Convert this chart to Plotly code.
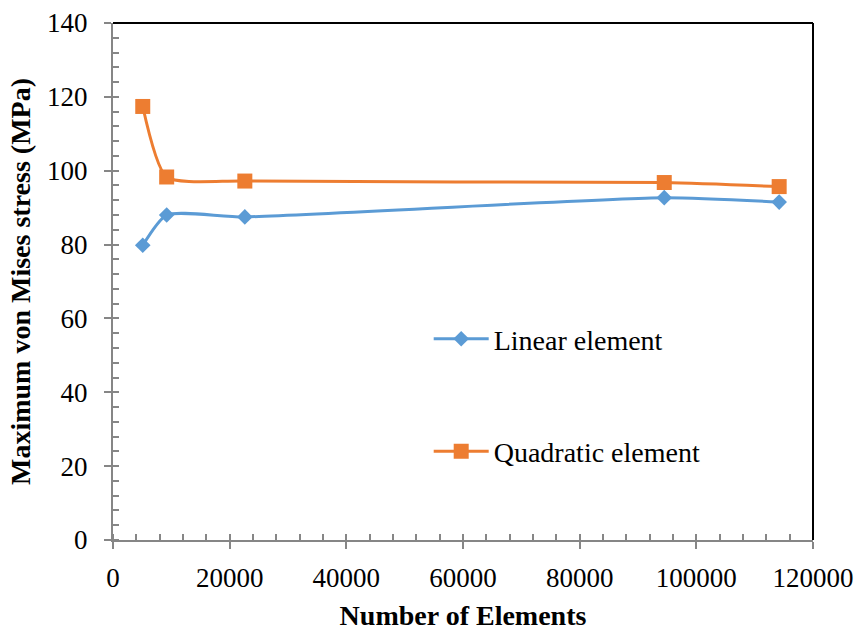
import plotly.graph_objects as go

elements = [5100, 9200, 22600, 94500, 114200]
linear_stress = [79.8, 88.0, 87.5, 92.7, 91.5]
quadratic_stress = [117.4, 98.3, 97.2, 96.8, 95.7]

x_ticks = [0, 20000, 40000, 60000, 80000, 100000, 120000]
y_ticks = [0, 20, 40, 60, 80, 100, 120, 140]

FONT = "Liberation Serif, Times New Roman, serif"
AXIS_GRAY = "#868686"

fig = go.Figure()
fig.add_trace(go.Scatter(
    x=elements, y=linear_stress, name="Linear element", legendgroup="a",
    mode="lines+markers",
    line=dict(color="#5B9BD5", width=3, shape="spline", smoothing=0.6),
    marker=dict(symbol="diamond", size=12, color="#5B9BD5"),
))
fig.add_trace(go.Scatter(
    x=elements, y=quadratic_stress, name="Quadratic element", legendgroup="b",
    mode="lines+markers",
    line=dict(color="#ED7D31", width=3, shape="spline", smoothing=0.6),
    marker=dict(symbol="square", size=15, color="#ED7D31"),
))

fig.update_layout(
    width=860, height=631,
    margin=dict(l=113, r=47, t=23, b=91, autoexpand=False),
    paper_bgcolor="white", plot_bgcolor="white",
    font=dict(family=FONT, color="black", size=27),
    showlegend=True,
    legend=dict(x=0.451, y=0.437, xanchor="left", yanchor="top",
                font=dict(family=FONT, size=28, color="black"),
                itemwidth=55, tracegroupgap=73, bgcolor="rgba(0,0,0,0)"),
    xaxis=dict(
        range=[0, 120000], tickvals=x_ticks, ticktext=[str(v) for v in x_ticks],
        automargin=False,
        showgrid=False, zeroline=False, showline=True, linecolor=AXIS_GRAY, linewidth=2,
        ticks="outside", ticklen=7, tickwidth=2, tickcolor=AXIS_GRAY,
        ticklabelstandoff=6,
        minor=dict(ticks="inside", ticklen=6, tickwidth=2, tickcolor=AXIS_GRAY, dtick=4000, tick0=0, showgrid=False),
        tickfont=dict(family=FONT, size=27, color="black"),
        title=dict(text="<b>Number of Elements</b>", font=dict(family=FONT, size=28, color="black"), standoff=24),
    ),
    yaxis=dict(
        range=[0, 140], tickvals=y_ticks, ticktext=[str(v) for v in y_ticks],
        automargin=False,
        showgrid=False, zeroline=False, showline=True, linecolor=AXIS_GRAY, linewidth=2,
        ticks="outside", ticklen=7, tickwidth=2, tickcolor=AXIS_GRAY,
        ticklabelstandoff=11,
        minor=dict(ticks="inside", ticklen=6, tickwidth=2, tickcolor=AXIS_GRAY, dtick=4, tick0=0, showgrid=False),
        tickfont=dict(family=FONT, size=27, color="black"),
        title=dict(text="<b>Maximum von Mises stress (MPa)</b>", font=dict(family=FONT, size=28, color="black"), standoff=8),
    ),
    shapes=[
        dict(type="line", xref="paper", yref="paper", x0=0, x1=1, y0=1, y1=1,
             line=dict(color="black", width=2)),
        dict(type="line", xref="paper", yref="paper", x0=1, x1=1, y0=0, y1=1,
             line=dict(color="black", width=2)),
    ],
)

fig.write_html("out.html")
